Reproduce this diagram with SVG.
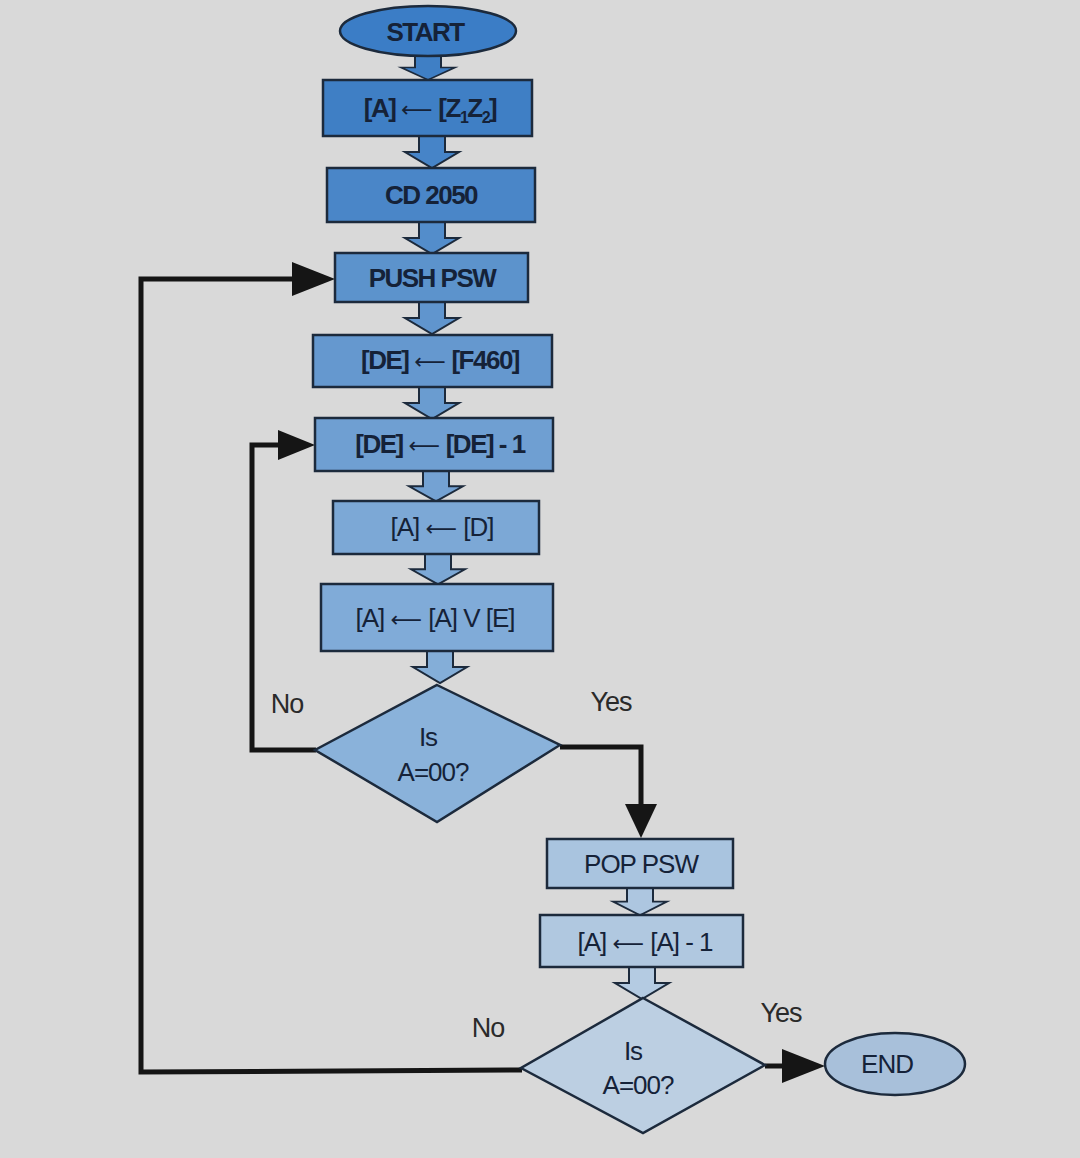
<svg xmlns="http://www.w3.org/2000/svg" width="1080" height="1158" viewBox="0 0 1080 1158">
<defs>
<style>
.bg{fill:#d9d9d9}
.box{stroke:#1c2a3c;stroke-width:2.5}
.t{font-family:"Liberation Sans",Arial,sans-serif;fill:#152238;text-anchor:middle}
.b{font-weight:bold;font-size:26px;letter-spacing:-1.5px}
.n{font-size:26px;letter-spacing:-1px}
.ar{font-family:"DejaVu Sans",sans-serif;font-weight:normal;font-size:22px;letter-spacing:0}
.lbl{font-family:"Liberation Sans",Arial,sans-serif;fill:#2a2a2a;font-size:27px;text-anchor:middle;letter-spacing:-1px}
.blk{stroke:#1c2a3c;stroke-width:2;fill:#6f9fd2}
.con{fill:none;stroke:#151515;stroke-width:5;stroke-linejoin:miter}
</style>
<path id="ba" d="M-13,0 V16 H-27 L0,32 L27,16 H13 V0 Z"/>
</defs>
<rect class="bg" x="0" y="0" width="1080" height="1158"/>
<g id="connectors">
<use href="#ba" class="blk" style="fill:#3f7fc5" transform="translate(428,55) scale(1,0.78)"/>
<use href="#ba" class="blk" style="fill:#4684c8" transform="translate(432,136)"/>
<use href="#ba" class="blk" style="fill:#538dcb" transform="translate(432,222)"/>
<use href="#ba" class="blk" style="fill:#6095ce" transform="translate(432,302)"/>
<use href="#ba" class="blk" style="fill:#6a9cd0" transform="translate(432,387)"/>
<use href="#ba" class="blk" style="fill:#74a2d3" transform="translate(436,471) scale(1,0.95)"/>
<use href="#ba" class="blk" style="fill:#7ca8d6" transform="translate(438,554) scale(1,0.95)"/>
<use href="#ba" class="blk" style="fill:#84aed8" transform="translate(440,651)"/>
<use href="#ba" class="blk" style="fill:#adc6e0" transform="translate(640,888) scale(1,0.85)"/>
<use href="#ba" class="blk" style="fill:#b4cbe2" transform="translate(642,967)"/>
<polyline class="con" points="560,747 641,747 641,808"/>
<path d="M625,804 L657,804 L641,838 Z" fill="#151515"/>
<polyline class="con" points="316,750 252,750 252,445 285,445"/>
<path d="M278,430 L315,445 L278,460 Z" fill="#151515"/>
<polyline class="con" points="522,1070 141,1072 141,279 300,279"/>
<path d="M292,262 L335,279 L292,296 Z" fill="#151515"/>
<line class="con" x1="765" y1="1066" x2="790" y2="1066"/>
<path d="M782,1049 L825,1066 L782,1083 Z" fill="#151515"/>
</g>
<g id="start">
<ellipse class="box" cx="428" cy="31" rx="88" ry="25" fill="#3b7dc6" stroke-width="4"/>
<text class="t b" x="425" y="41">START</text>
</g>
<g id="load-a">
<rect class="box" x="323" y="80" width="209" height="56" fill="#3f7fc5"/>
<text class="t b" x="430" y="117">[A] <tspan class="ar">⟵</tspan> [Z<tspan font-size="16" dy="6">1</tspan><tspan dy="-6">Z</tspan><tspan font-size="16" dy="6">2</tspan><tspan dy="-6">]</tspan></text>
</g>
<g id="cd2050">
<rect class="box" x="327" y="168" width="208" height="54" fill="#4a86c8"/>
<text class="t b" x="431" y="204">CD 2050</text>
</g>
<g id="push-psw">
<rect class="box" x="335" y="253" width="193" height="49" fill="#5c93cc"/>
<text class="t b" x="432" y="287">PUSH PSW</text>
</g>
<g id="load-de">
<rect class="box" x="313" y="335" width="239" height="52" fill="#6598cf"/>
<text class="t b" x="440" y="369" font-size="24">[DE] <tspan class="ar">⟵</tspan> [F460]</text>
</g>
<g id="dec-de">
<rect class="box" x="315" y="418" width="238" height="53" fill="#6f9fd2"/>
<text class="t b" x="440" y="453" font-size="24">[DE] <tspan class="ar">⟵</tspan> [DE] - 1</text>
</g>
<g id="a-d">
<rect class="box" x="333" y="501" width="206" height="53" fill="#7ca8d6"/>
<text class="t n" x="442" y="536">[A] <tspan class="ar">⟵</tspan> [D]</text>
</g>
<g id="a-or-e">
<rect class="box" x="321" y="584" width="232" height="67" fill="#80abd8"/>
<text class="t n" x="435" y="627">[A] <tspan class="ar">⟵</tspan> [A] V [E]</text>
</g>
<g id="decision1">
<polygon class="box" points="437,685 560,745 437,822 315,750" fill="#8ab2da"/>
<text class="t n" x="428" y="746">Is</text>
<text class="t n" x="433" y="781">A=00?</text>
</g>
<text class="lbl" x="287" y="713">No</text>
<text class="lbl" x="611" y="711">Yes</text>
<g id="pop-psw">
<rect class="box" x="547" y="839" width="186" height="49" fill="#a9c4df"/>
<text class="t n" x="641" y="873">POP PSW</text>
</g>
<g id="dec-a">
<rect class="box" x="540" y="915" width="203" height="52" fill="#b0c8e0"/>
<text class="t n" x="645" y="951">[A] <tspan class="ar">⟵</tspan> [A] - 1</text>
</g>
<g id="decision2">
<polygon class="box" points="643,998 765,1065 643,1133 521,1068" fill="#bccfe2"/>
<text class="t n" x="633" y="1060">Is</text>
<text class="t n" x="638" y="1094">A=00?</text>
</g>
<text class="lbl" x="488" y="1037">No</text>
<text class="lbl" x="781" y="1022">Yes</text>
<g id="end">
<ellipse class="box" cx="895" cy="1064" rx="70" ry="31" fill="#a8c0da"/>
<text class="t n" x="887" y="1073">END</text>
</g>
</svg>
